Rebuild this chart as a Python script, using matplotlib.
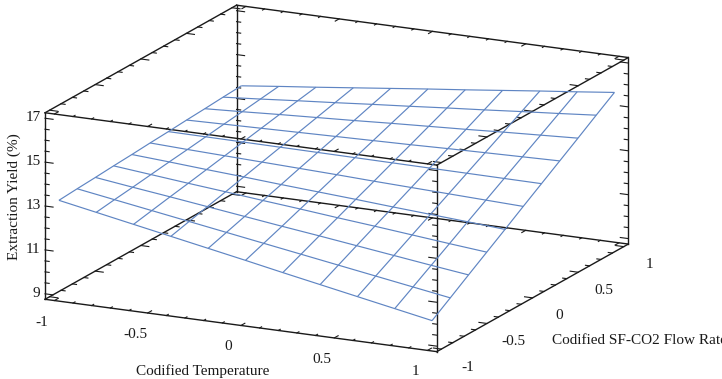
import numpy as np
import matplotlib
matplotlib.use("Agg")
import matplotlib.pyplot as plt
from mpl_toolkits.mplot3d import proj3d

plt.rcParams['font.family'] = ['Liberation Serif', 'DejaVu Serif']

# response surface on the coded grid
temp_grid = [-1, -0.8, -0.6, -0.4, -0.2, 0, 0.2, 0.4, 0.6, 0.8, 1]
flow_grid = [-1, -0.8, -0.6, -0.4, -0.2, 0, 0.2, 0.4, 0.6, 0.8, 1]
yield_grid = [
    [13.20, 12.88, 12.56, 12.24, 11.92, 11.60, 11.27, 10.95, 10.63, 10.31, 9.99],
    [13.26, 12.99, 12.72, 12.45, 12.18, 11.91, 11.64, 11.37, 11.10, 10.83, 10.56],
    [13.31, 13.09, 12.88, 12.66, 12.44, 12.22, 12.01, 11.79, 11.57, 11.35, 11.14],
    [13.37, 13.20, 13.03, 12.87, 12.70, 12.54, 12.37, 12.21, 12.04, 11.87, 11.71],
    [13.42, 13.31, 13.19, 13.08, 12.96, 12.85, 12.74, 12.62, 12.51, 12.40, 12.28],
    [13.48, 13.41, 13.35, 13.29, 13.23, 13.17, 13.10, 13.04, 12.98, 12.92, 12.86],
    [13.53, 13.52, 13.51, 13.50, 13.49, 13.48, 13.47, 13.46, 13.45, 13.44, 13.43],
    [13.59, 13.63, 13.67, 13.71, 13.75, 13.79, 13.83, 13.88, 13.92, 13.96, 14.00],
    [13.64, 13.73, 13.83, 13.92, 14.01, 14.11, 14.20, 14.29, 14.39, 14.48, 14.57],
    [13.70, 13.84, 13.99, 14.13, 14.28, 14.42, 14.57, 14.71, 14.86, 15.00, 15.15],
    [13.75, 13.95, 14.14, 14.34, 14.54, 14.74, 14.93, 15.13, 15.33, 15.52, 15.72],
]

temp_ticks = [-1, -0.5, 0, 0.5, 1]
flow_ticks = [-1, -0.5, 0, 0.5, 1]
yield_ticks = [9, 11, 13, 15, 17]

xlo, xhi = -1.05, 1.05
ylo, yhi = -1.05, 1.05
zlo, zhi = 8.75, 17.25

W, H = 722, 379
fig = plt.figure(figsize=(W / 100, H / 100), dpi=100)
side = 628
ax = fig.add_axes([14.2 / W, -121.9 / H, side / W, side / H], projection='3d', proj_type='ortho')
ax.computed_zorder = False
ax.set_axis_off()
ax.view_init(elev=15.9, azim=-64.0)
ax.set_box_aspect((436, 437, 194))
ax.set_xlim(xlo, xhi)
ax.set_ylim(ylo, yhi)
ax.set_zlim(zlo, zhi)

BLACK = '#1a1a1a'
BLUE = '#5f85c3'

# box edges
for y in (ylo, yhi):
    for z in (zlo, zhi):
        ax.plot([xlo, xhi], [y, y], [z, z], color=BLACK, lw=1.0, zorder=2)
for x in (xlo, xhi):
    for z in (zlo, zhi):
        ax.plot([x, x], [ylo, yhi], [z, z], color=BLACK, lw=1.0, zorder=2)
for x in (xlo, xhi):
    for y in (ylo, yhi):
        ax.plot([x, x], [y, y], [zlo, zhi], color=BLACK, lw=1.0, zorder=2)

MAJOR = 0.043
MINOR = 0.022


def tick_len(v, majors):
    return MAJOR if min(abs(v - m) for m in majors) < 1e-6 else MINOR


# ticks along temperature point into the box in the flow direction
for v in np.arange(-1, 1.01, 0.1):
    n = tick_len(v, temp_ticks)
    for z in (zlo, zhi):
        ax.plot([v, v], [ylo, ylo + n], [z, z], color=BLACK, lw=0.8, zorder=2)
        ax.plot([v, v], [yhi, yhi - n], [z, z], color=BLACK, lw=0.8, zorder=2)

# flow and yield ticks point along temperature
for v in np.arange(-1, 1.01, 0.125):
    n = tick_len(v, flow_ticks)
    for z in (zlo, zhi):
        ax.plot([xlo, xlo + n], [v, v], [z, z], color=BLACK, lw=0.8, zorder=2)
        ax.plot([xhi, xhi - n], [v, v], [z, z], color=BLACK, lw=0.8, zorder=2)

for v in np.arange(9, 17.01, 0.5):
    n = tick_len(v, yield_ticks)
    for y in (ylo, yhi):
        ax.plot([xlo, xlo + n], [y, y], [v, v], color=BLACK, lw=0.8, zorder=2)
        ax.plot([xhi, xhi - n], [y, y], [v, v], color=BLACK, lw=0.8, zorder=2)

X, Y = np.meshgrid(temp_grid, flow_grid)
Z = np.array(yield_grid)
ax.plot_wireframe(X, Y, Z, rcount=11, ccount=11, color=BLUE, lw=0.85, zorder=3)

FS = 11


def label_at(x, y, z, s, ha='center'):
    # flat text placed at the projected position of a 3d point
    px, py, _ = proj3d.proj_transform(x, y, z, ax.get_proj())
    ax.text2D(px, py, s, transform=ax.transData, ha=ha, va='center',
              fontsize=FS, color=BLACK, clip_on=False)


for t in temp_ticks:
    label_at(t, -1.187, 8.09, f'{t:g}')
for t in flow_ticks:
    label_at(1.19, t, 8.09, f'{t:g}')
for t in yield_ticks:
    label_at(-1.074, -1.05, t, f'{t:g}', ha='right')

fig.text(203 / W, 1 - 371 / H, 'Codified Temperature', ha='center', va='center',
         fontsize=FS, color=BLACK)
fig.text(552 / W, 1 - 341 / H, 'Codified SF-CO2 Flow Rate', ha='left', va='center',
         fontsize=FS, color=BLACK)
fig.text(14.5 / W, 1 - 197 / H, 'Extraction Yield (%)', ha='center', va='center',
         rotation=90, fontsize=FS, color=BLACK)

fig.savefig('out.png', dpi=100)
